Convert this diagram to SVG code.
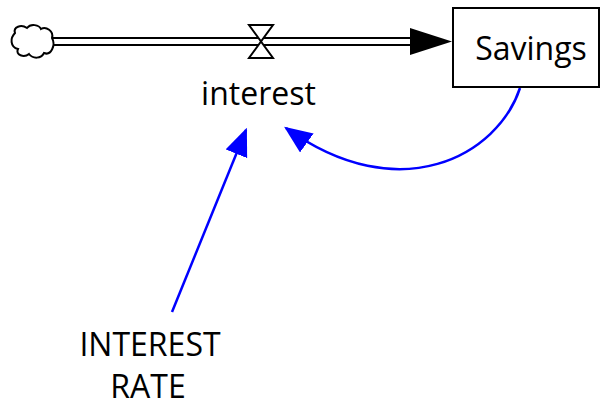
<svg xmlns="http://www.w3.org/2000/svg" width="604" height="408" viewBox="0 0 604 408">
<style>
text{font-family:"Open Sans","Noto Sans",sans-serif;font-size:32px;fill:#000;text-anchor:middle}
.pipe{fill:none;stroke:#000;stroke-width:2}
.link{fill:none;stroke:#0000ff;stroke-width:2.5}
</style>
<defs>
<marker id="blue" markerUnits="userSpaceOnUse" markerWidth="28" markerHeight="24" refX="22" refY="10" orient="auto" viewBox="0 0 24 20">
<path d="M0,0 L24,10 L0,20 Z" fill="#0000ff"/>
</marker>
</defs>
<rect width="604" height="408" fill="#fff"/>
<g id="connectors">
<g id="flow-interest">
<line class="pipe" x1="52" y1="38" x2="420" y2="38"/>
<line class="pipe" x1="52" y1="45" x2="420" y2="45"/>
<path d="M410,28 L452,41.5 L410,55 Z" fill="#000"/>
</g>
<path class="link" d="M172,312 L246,130" marker-end="url(#blue)"/>
<path class="link" d="M520,88 C498,155 400,210 286,128" marker-end="url(#blue)"/>
</g>
<g id="cloud">
<path d="M15,33 C13,27 21,24 27,28 C31,23 39,25 41,29 C46,26 54,31 52,38 C56,45 51,56 44,53 C41,59 33,59 29,54 C24,58 15,55 18,49 C10,47 10,38 15,33 Z" fill="#fff" stroke="#000" stroke-width="2"/>
</g>
<g id="interest">
<path d="M249,25 L273,25 L261,41.5 L273,58 L249,58 L261,41.5 Z" fill="#fff" stroke="#000" stroke-width="2"/>
<text x="258.5" y="105">interest</text>
</g>
<g id="Savings">
<rect x="453" y="8" width="146" height="79" fill="#fff" stroke="#000" stroke-width="2"/>
<text x="531" y="60">Savings</text>
</g>
<g id="INTEREST_RATE">
<text x="150" y="356">INTEREST</text>
<text x="148" y="398">RATE</text>
</g>
</svg>
